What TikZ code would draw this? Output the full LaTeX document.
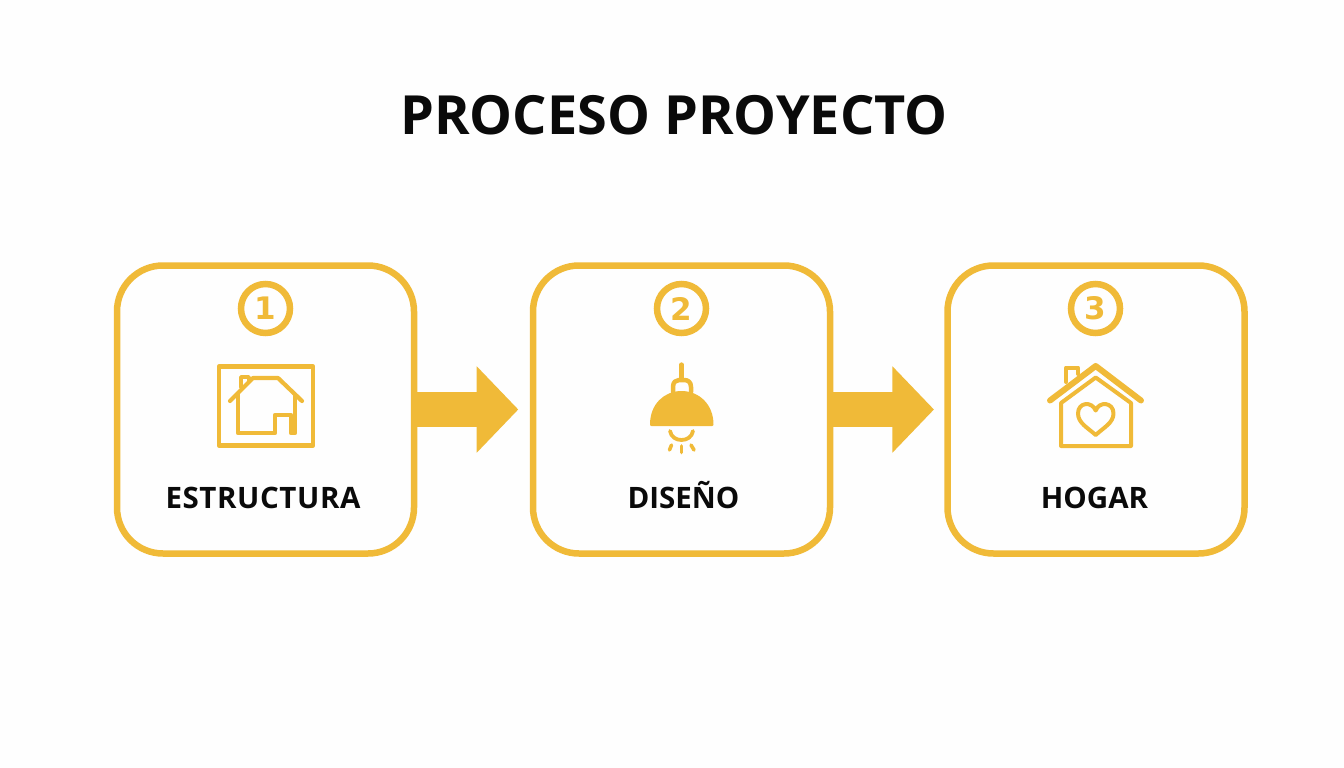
\documentclass[tikz,border=0pt]{standalone}
\usepackage{fontspec}
\setmainfont{Open Sans}
\newfontfamily\digitfont{DejaVu Sans}
\usetikzlibrary{arrows.meta}
\definecolor{gold}{HTML}{F0BA38}
\definecolor{paper}{HTML}{FEFEFE}
\definecolor{ink}{HTML}{0A0A0A}
\tikzset{
  panel/.style={draw=gold,line width=6.5pt,rounded corners=46pt,outer sep=0pt,minimum width=297pt,minimum height=288pt,inner sep=0pt},
  badge/.style={circle,draw=gold,line width=6.5pt,outer sep=0pt,minimum size=49pt,inner sep=0pt,text=gold,font=\digitfont\bfseries\fontsize{31}{31}\selectfont},
  caption/.style={anchor=base,text=ink,font=\bfseries\fontsize{29.5}{30}\selectfont},
  heading/.style={anchor=base,text=ink,font=\bfseries\fontsize{54}{54}\selectfont},
  flow/.style={draw=gold,line width=35.6pt,shorten >=14.7pt,-{Triangle[length=41.6pt,width=84pt]}},
  icon/.style={draw=gold,line join=round,line cap=round},
}
\begin{document}
\begin{tikzpicture}[x=1pt,y=-1pt]
\useasboundingbox (0,0) rectangle (1344,768);
\fill[paper] (0,0) rectangle (1344,768);
\node[heading] (title) at (674,134) {PROCESO PROYECTO};
\node[panel] (p1) at (265.5,409.5) {};
\node[panel] (p2) at (681.5,409.5) {};
\node[panel] (p3) at (1096,409.5) {};
\draw[flow] (p1.east) -- (p2.west);
\draw[flow,shorten >=13.5pt] (p2.east) -- (p3.west);
\node[badge] (n1) at (265.5,308.5) {1};
\node[badge] (n2) at (681.5,308.5) {2};
\node[badge] (n3) at (1095.5,308.5) {3};
\node[caption] (c1) at (263,508) {\addfontfeature{LetterSpace=2}ESTRUCTURA};
\node[caption] (c2) at (683.5,508) {DISEÑO};
\node[caption] (c3) at (1094.5,508) {HOGAR};
% icon 1
\draw[icon,line width=4.5pt] (219,366.5) rectangle (313,445.5);
\draw[icon,line width=4.2pt] (230,401) -- (253,378) -- (278,378) -- (302,401);
\draw[icon,line width=4.2pt] (238,394) -- (238,433) -- (275,433) -- (275,415) -- (291,415) -- (291,433) -- (295,433) -- (295,395);
\draw[icon,line width=3.8pt] (241,387) -- (241,377) -- (249,377) -- (249,380);
% icon 2
\draw[icon,line width=4.2pt] (681.5,364.5) -- (681.5,379);
\draw[icon,line width=4.5pt] (673,392) -- (673,387) .. controls (673,382) and (676,380) .. (679,380) -- (684,380) .. controls (688,380) and (691,382) .. (691,387) -- (691,392);
\path[icon,fill=gold,line width=3pt] (651.5,424.5) .. controls (651.5,405) and (665,392.5) .. (681.5,392.5) .. controls (698,392.5) and (712,405) .. (712,424.5) -- cycle;
\draw[icon,line width=3.8pt] (670,431) .. controls (672,443) and (691,443) .. (693,431);
\draw[icon,line width=3.6pt] (671.5,445) -- (669.5,450);
\draw[icon,line width=3.6pt] (681.5,446) -- (681.5,452.5);
\draw[icon,line width=3.6pt] (691,445) -- (694,450);
% icon 3
\draw[icon,line width=6pt] (1050,400.5) -- (1095.7,366) -- (1141,400.5);
\draw[icon,line width=4pt] (1066,382) -- (1066,367.5) -- (1078,367.5) -- (1078,374);
\draw[icon,line width=4pt] (1061,403) -- (1095.7,377.5) -- (1131,403) -- (1131,446) -- (1061,446) -- cycle;
\draw[icon,line width=4pt] (1095.7,435) .. controls (1088,428) and (1078,423) .. (1078,413.5) .. controls (1078,402) and (1092,401) .. (1095.7,410.5) .. controls (1099,401) and (1113.5,402) .. (1113.5,413.5) .. controls (1113.5,423) and (1103,428) .. (1095.7,435) -- cycle;
\end{tikzpicture}
\end{document}
